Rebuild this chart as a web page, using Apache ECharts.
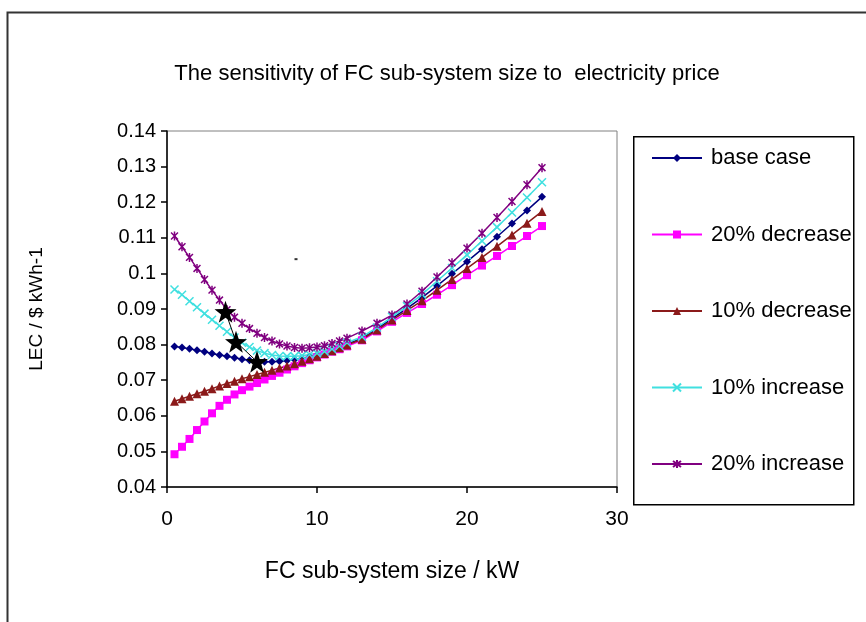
<!DOCTYPE html>
<html>
<head>
<meta charset="utf-8">
<script src="https://cdn.jsdelivr.net/npm/echarts@6/dist/echarts.min.js"></script>
<style>
html,body{margin:0;padding:0;background:#fff;}
#chart{width:866px;height:622px;}
</style>
</head>
<body>
<div id="chart"></div>
<script>
// FC sub-system size / kW
var xs = [0.5,1,1.5,2,2.5,3,3.5,4,4.5,5,5.5,6,6.5,7,7.5,8,8.5,9,9.5,10,10.5,11,11.5,12,13,14,15,16,17,18,19,20,21,22,23,24,25];
// LEC / $ kWh-1
var baseCase = [0.0795,0.0792,0.0788,0.0784,0.0780,0.0775,0.0771,0.0767,0.0763,0.0759,0.0756,0.0753,0.0752,0.0752,0.0753,0.0755,0.0758,0.0761,0.0765,0.0770,0.0776,0.0783,0.0791,0.0801,0.0818,0.0844,0.0873,0.0902,0.0932,0.0965,0.0999,0.1033,0.1068,0.1103,0.1140,0.1177,0.1215];
var dec20 = [0.0492,0.0513,0.0535,0.0560,0.0584,0.0607,0.0628,0.0645,0.0660,0.0672,0.0682,0.0692,0.0702,0.0712,0.0721,0.0730,0.0739,0.0748,0.0756,0.0764,0.0772,0.0780,0.0787,0.0795,0.0812,0.0837,0.0864,0.0889,0.0914,0.0940,0.0967,0.0995,0.1022,0.1049,0.1077,0.1105,0.1133];
var dec10 = [0.0641,0.0648,0.0655,0.0662,0.0669,0.0676,0.0684,0.0691,0.0697,0.0704,0.0710,0.0716,0.0722,0.0728,0.0734,0.0740,0.0746,0.0753,0.0760,0.0767,0.0775,0.0783,0.0791,0.0799,0.0815,0.0841,0.0869,0.0896,0.0923,0.0953,0.0983,0.1014,0.1045,0.1076,0.1108,0.1141,0.1174];
var inc10 = [0.0955,0.0940,0.0922,0.0905,0.0887,0.0870,0.0853,0.0836,0.0820,0.0805,0.0793,0.0783,0.0776,0.0771,0.0768,0.0767,0.0767,0.0769,0.0772,0.0776,0.0781,0.0788,0.0796,0.0805,0.0822,0.0848,0.0878,0.0908,0.0941,0.0978,0.1015,0.1052,0.1091,0.1130,0.1171,0.1213,0.1256];
var inc20 = [0.1105,0.1075,0.1045,0.1014,0.0983,0.0953,0.0925,0.0898,0.0877,0.0860,0.0845,0.0832,0.0820,0.0810,0.0802,0.0796,0.0792,0.0790,0.0791,0.0793,0.0797,0.0803,0.0810,0.0818,0.0838,0.0860,0.0883,0.0914,0.0950,0.0990,0.1030,0.1071,0.1113,0.1157,0.1202,0.1249,0.1297];
// optimum points (stars)
var optX = [3.9, 4.6, 6.0];
var optY = [0.0892, 0.0808, 0.0752];
// stray mark in the plot
var strayX = [8.6];
var strayY = [0.104];

var seriesNames = ['base case','20% decrease','10% decrease','10% increase','20% increase'];
var xTicks = [0,10,20,30];
var yTicks = [0.04,0.05,0.06,0.07,0.08,0.09,0.1,0.11,0.12,0.13,0.14];

function pairs(xv, yv){ return xv.map(function(x,i){ return [x, yv[i]]; }); }

var FONT = 'Liberation Sans';
var STAR = 'path://M10,0L12.35,6.76L19.51,6.91L13.8,11.24L15.88,18.09L10,14L4.12,18.09L6.2,11.24L0.49,6.91L7.65,6.76Z';
var XMARK = 'path://M0,0L10,10M10,0L0,10';
var ASTER = 'path://M0,0L10,10M10,0L0,10M5,-1.5L5,11.5';

function lineSeries(name, data, color, symbol, size, extraItem){
  var item = {color: color, borderColor: color, borderWidth: 0};
  if (extraItem) { for (var k in extraItem) item[k] = extraItem[k]; }
  return {
    name: name, type: 'line', data: data, symbol: symbol, symbolSize: size,
    showAllSymbol: true, symbolKeepAspect: true,
    lineStyle: {color: color, width: 1.5}, itemStyle: item, z: 3
  };
}

var chart = echarts.init(document.getElementById('chart'), null, {renderer: 'canvas'});
var option = {
  backgroundColor: '#ffffff',
  animation: false,
  title: {
    text: 'The sensitivity of FC sub-system size to  electricity price',
    left: 442, top: 58, textAlign: 'center',
    textStyle: {fontFamily: FONT, fontSize: 22, fontWeight: 'normal', color: '#000'}
  },
  grid: {left: 167, top: 131, width: 450, height: 356, show: true, borderColor: '#808080', borderWidth: 1, containLabel: false},
  xAxis: {
    type: 'value', min: xTicks[0], max: xTicks[xTicks.length-1], interval: 10,
    name: 'FC sub-system size / kW', nameLocation: 'middle', nameGap: 73,
    nameTextStyle: {fontFamily: FONT, fontSize: 23, color: '#000'},
    axisLine: {show: true, onZero: false, lineStyle: {color: '#000', width: 1.5}},
    axisTick: {show: true, inside: false, length: 6, lineStyle: {color: '#000', width: 1.5}},
    axisLabel: {margin: 22, fontFamily: FONT, fontSize: 21, color: '#000'},
    splitLine: {show: false}
  },
  yAxis: {
    type: 'value', min: yTicks[0], max: yTicks[yTicks.length-1], interval: 0.01,
    name: 'LEC / $ kWh-1', nameLocation: 'middle', nameGap: 121, nameRotate: 90,
    nameTextStyle: {fontFamily: FONT, fontSize: 19, color: '#000'},
    axisLine: {show: true, onZero: false, lineStyle: {color: '#000', width: 1.5}},
    axisTick: {show: true, inside: false, length: 6, lineStyle: {color: '#000', width: 1.5}},
    axisLabel: {margin: 11, fontFamily: FONT, fontSize: 20, color: '#000'},
    splitLine: {show: false}
  },
  legend: {
    orient: 'vertical', left: 646, top: 142,
    itemWidth: 50, itemHeight: 10, itemGap: 54.5,
    data: seriesNames,
    textStyle: {fontFamily: FONT, fontSize: 22, lineHeight: 22, color: '#000', padding: [0,0,0,4]}
  },
  graphic: [
    {type: 'rect', left: 5, top: 10, silent: true, z: -10,
     shape: {width: 900, height: 700}, style: {fill: 'none', stroke: '#333', lineWidth: 2}},
    {type: 'rect', left: 633, top: 136, silent: true, z: -9,
     shape: {width: 220, height: 368}, style: {fill: '#fff', stroke: '#000', lineWidth: 1.5}}
  ],
  series: [
    lineSeries(seriesNames[0], pairs(xs, baseCase), '#000080', 'diamond', 8),
    lineSeries(seriesNames[1], pairs(xs, dec20), '#FF00FF', 'rect', 8),
    lineSeries(seriesNames[2], pairs(xs, dec10), '#8B1A1A', 'triangle', 9),
    lineSeries(seriesNames[3], pairs(xs, inc10), '#40E0E0', XMARK, 8, {color: 'none', borderColor: '#40E0E0', borderWidth: 1.5}),
    lineSeries(seriesNames[4], pairs(xs, inc20), '#800080', ASTER, 9, {color: 'none', borderColor: '#800080', borderWidth: 1.5}),
    {name: 'optimum', type: 'line', data: pairs(optX, optY), symbol: STAR, symbolSize: 22,
     lineStyle: {color: '#000', width: 1}, itemStyle: {color: '#000'}, z: 5},
    {name: 'mark', type: 'scatter', data: pairs(strayX, strayY), symbol: 'rect', symbolSize: [3, 2],
     itemStyle: {color: '#000'}, z: 5}
  ]
};
chart.setOption(option);
</script>
</body>
</html>
